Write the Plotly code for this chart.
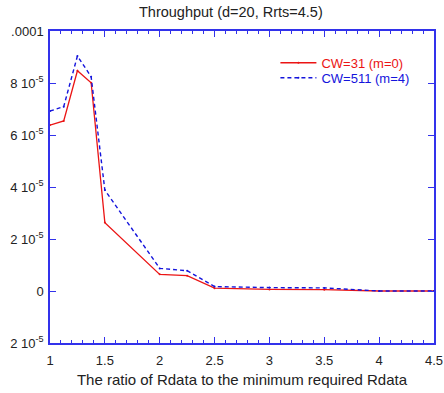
import plotly.graph_objects as go

x_vals = [1, 1.125, 1.25, 1.375, 1.5, 2, 2.25, 2.5, 3, 3.5, 4, 4.5]
cw31 = [6.38e-5, 6.54e-5, 8.47e-5, 8.01e-5, 2.63e-5, 0.64e-5, 0.59e-5, 0.11e-5, 0.06e-5, 0.05e-5, 0.0, 0.0]
cw511 = [6.92e-5, 7.09e-5, 9.04e-5, 8.24e-5, 3.88e-5, 0.87e-5, 0.78e-5, 0.17e-5, 0.13e-5, 0.12e-5, 0.0, 0.0]

y_tickvals = [-2e-5, 0, 2e-5, 4e-5, 6e-5, 8e-5, 1e-4]
y_ticktext = ["2 10<sup>-5</sup>", "0", "2 10<sup>-5</sup>", "4 10<sup>-5</sup>",
              "6 10<sup>-5</sup>", "8 10<sup>-5</sup>", ".0001"]
x_tickvals = [1, 1.5, 2, 2.5, 3, 3.5, 4, 4.5]
x_ticktext = ["1", "1.5", "2", "2.5", "3", "3.5", "4", "4.5"]

RED = "rgb(235,20,20)"
BLUE = "rgb(20,20,220)"
AXIS = "rgb(50,50,235)"

fig = go.Figure()
fig.add_trace(go.Scatter(
    x=x_vals, y=cw31, mode="lines+markers", legend="legend",
    name="<span style='color:rgb(235,20,20)'>CW=31 (m=0)</span>",
    line=dict(color=RED, width=1.3), marker=dict(size=2, color=RED)))
fig.add_trace(go.Scatter(
    x=x_vals, y=cw511, mode="lines+markers", legend="legend2",
    name="<span style='color:rgb(20,20,220)'>CW=511 (m=4)</span>",
    line=dict(color=BLUE, width=1.4, dash="4px,3px"), marker=dict(size=2, color=BLUE)))

leg_common = dict(xanchor="left", yanchor="middle", bgcolor="rgba(0,0,0,0)",
                  font=dict(size=13), itemwidth=36, borderwidth=0)
fig.update_layout(
    width=444, height=393,
    margin=dict(l=50, r=10, t=31, b=50, autoexpand=False),
    paper_bgcolor="white", plot_bgcolor="white",
    font=dict(family="Liberation Sans, Arial, sans-serif", size=13, color="#222"),
    title=dict(text="Throughput (d=20, Rrts=4.5)", x=0.471, xref="paper", xanchor="center",
               y=0.97, yref="container", yanchor="middle", font=dict(size=14.5, color="#222")),
    showlegend=True,
    legend=dict(x=0.587, y=0.898, **leg_common),
    legend2=dict(x=0.587, y=0.850, **leg_common),
)
fig.update_xaxes(
    range=[1, 4.5], tickvals=x_tickvals, ticktext=x_ticktext,
    showline=True, linecolor=AXIS, linewidth=1.5, mirror="ticks",
    ticks="inside", ticklen=6, tickcolor=AXIS, tickwidth=1,
    minor=dict(dtick=0.1, ticks="inside", ticklen=3, tickcolor=AXIS, showgrid=False),
    showgrid=False, zeroline=False, ticklabelstandoff=5, automargin=False,
    title=dict(text="The ratio of Rdata to the minimum required Rdata", font=dict(size=15), standoff=7),
    tickfont=dict(size=13),
)
fig.update_yaxes(
    range=[-2e-5, 1e-4], tickvals=y_tickvals, ticktext=y_ticktext,
    showline=True, linecolor=AXIS, linewidth=1.5, mirror="ticks",
    ticks="inside", ticklen=6, tickcolor=AXIS, tickwidth=1, automargin=False,
    showgrid=False, zeroline=False, tickfont=dict(size=13), ticklabelstandoff=2,
)

fig.write_html("out.html")
